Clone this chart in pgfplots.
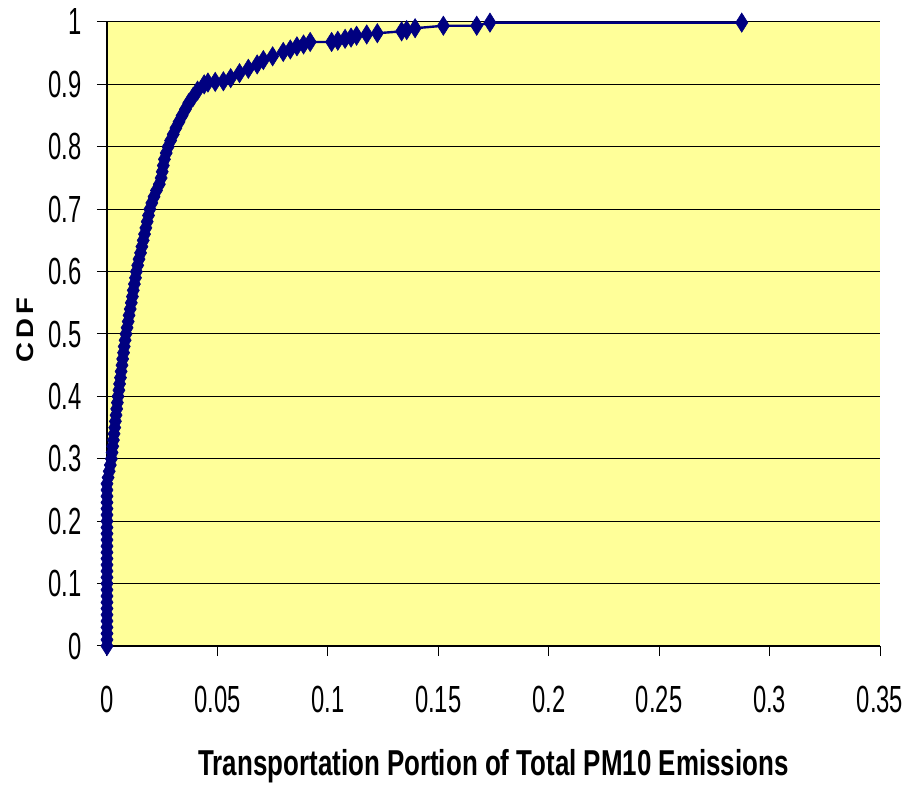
\documentclass[border=0pt]{standalone}
\usepackage{fontspec}
\setmainfont{Liberation Sans}
\newfontfamily\tickfont{Liberation Sans}[FakeStretch=0.63]
\newfontfamily\titlefont{Liberation Sans}[FakeStretch=0.72]
\newfontfamily\ylabfont{Liberation Sans}[FakeStretch=1.15]
\usepackage{pgfplots}
\pgfplotsset{compat=1.18}
\definecolor{bgyellow}{RGB}{255,255,153}
\definecolor{navy}{RGB}{0,0,128}
\begin{document}
\begin{tikzpicture}
\begin{axis}[
  scale only axis,
  width=386.5pt, height=312pt,
  xmin=0, xmax=0.35, ymin=0, ymax=1,
  axis lines=left,
  axis line style={-, black, line width=0.6pt},
  axis background/.style={fill=bgyellow},
  clip=false,
  xtick={0,0.05,0.1,0.15,0.2,0.25,0.3,0.35},
  xticklabels={0,0.05,0.1,0.15,0.2,0.25,0.3,0.35},
  ytick={0,0.1,0.2,0.3,0.4,0.5,0.6,0.7,0.8,0.9,1},
  yticklabels={0,0.1,0.2,0.3,0.4,0.5,0.6,0.7,0.8,0.9,1},
  tick align=outside,
  major tick length=5pt,
  tick style={black, line width=0.5pt},
  ymajorgrids,
  major grid style={black, line width=0.5pt},
  /pgf/number format/assume math mode=true,
  xticklabel style={font=\tickfont\fontsize{18.9}{22}\selectfont, inner sep=0pt, anchor=north, yshift=-15pt},
  yticklabel style={font=\tickfont\fontsize{18.9}{22}\selectfont, inner sep=0pt, anchor=east, xshift=-7.5pt},
  xlabel={Transportation Portion of Total PM10 Emissions},
  xlabel style={font=\titlefont\bfseries\fontsize{18}{21}\selectfont, inner sep=0pt, anchor=base, at={(axis description cs:0.5,-0.2083)}},
  ylabel={C\hspace{2pt}D\hspace{2pt}F},
  ylabel style={font=\ylabfont\bfseries\fontsize{12}{14}\selectfont, inner sep=0pt, anchor=base, at={(axis description cs:-0.0957,0.506)}},
]
\addplot[navy, line width=1.2pt, mark=diamond*, mark size=4.8pt,
  mark options={xscale=0.84, draw=navy, fill=navy, line width=0.3pt}]
coordinates {
(0,0) (0,0.01) (0,0.02) (0,0.03) (0,0.04) (0,0.05) (0,0.06) (0,0.07) (0,0.08) (0,0.09)
(0,0.10) (0,0.11) (0,0.12) (0,0.13) (0,0.14) (0,0.15) (0,0.16) (0,0.17) (0,0.18) (0,0.19)
(0,0.20) (0,0.21) (0,0.22) (0,0.23) (0,0.24) (0,0.25) (0,0.26)
(0.0005,0.27) (0.001,0.28) (0.0015,0.29) (0.002,0.30) (0.0023,0.31) (0.0026,0.32)
(0.0029,0.33) (0.0032,0.34) (0.0035,0.35) (0.0038,0.36) (0.0041,0.37) (0.0044,0.38)
(0.0047,0.39) (0.005,0.40) (0.0054,0.41) (0.0057,0.42) (0.0061,0.43) (0.0064,0.44)
(0.0068,0.45) (0.0071,0.46) (0.0075,0.47) (0.0078,0.48) (0.0082,0.49) (0.0086,0.50)
(0.0091,0.51) (0.0096,0.52) (0.0100,0.53) (0.0105,0.54) (0.0110,0.55) (0.0115,0.56)
(0.0119,0.57) (0.0124,0.58) (0.0129,0.59) (0.0133,0.60) (0.0139,0.61) (0.0145,0.62)
(0.0152,0.63) (0.0158,0.64) (0.0164,0.65) (0.0170,0.66) (0.0176,0.67) (0.0182,0.68)
(0.0188,0.69) (0.0194,0.70) (0.0203,0.71) (0.0213,0.72) (0.0224,0.73) (0.0237,0.74)
(0.0245,0.75) (0.0250,0.76) (0.0255,0.77) (0.0260,0.78) (0.0268,0.79) (0.0277,0.80)
(0.0288,0.81) (0.0300,0.82) (0.0312,0.83) (0.0326,0.84) (0.0340,0.85) (0.0355,0.86)
(0.0370,0.87) (0.0390,0.88) (0.0410,0.89) (0.0440,0.90) (0.0457,0.903)
(0.0490,0.904) (0.0527,0.905) (0.0560,0.910) (0.0600,0.918) (0.0640,0.925)
(0.0680,0.932) (0.0708,0.939) (0.0750,0.945) (0.0798,0.952) (0.0830,0.956)
(0.0860,0.961) (0.0890,0.964) (0.0920,0.968) (0.1017,0.968) (0.1045,0.970)
(0.1078,0.973) (0.1105,0.975) (0.1130,0.978) (0.1176,0.980) (0.1224,0.982)
(0.1334,0.985) (0.1357,0.987) (0.1395,0.990) (0.1523,0.994) (0.1674,0.994)
(0.1734,0.999) (0.2874,0.999)
};
\end{axis}
\pgfresetboundingbox
\path[use as bounding box] (-53.5pt,-70.5pt) rectangle (402pt,323pt);
\end{tikzpicture}
\end{document}
